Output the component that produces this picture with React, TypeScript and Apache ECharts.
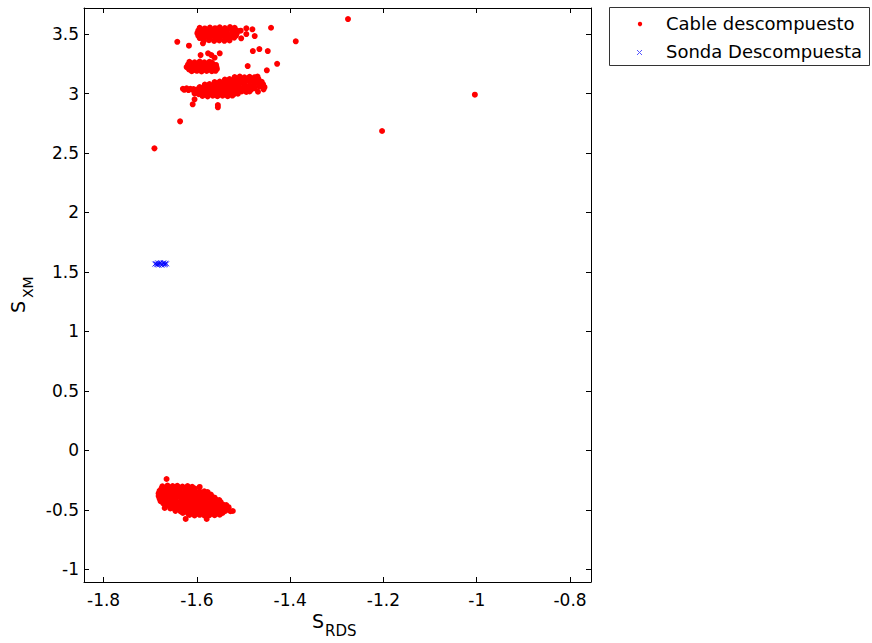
import { useEffect, useRef } from "react";
import * as echarts from "echarts";

// Series names (also used in the legend box)
const cableName = "Cable descompuesto";
const sondaName = "Sonda Descompuesta";

// Axis limits and tick positions
const xRange = [-1.842, -0.755];
const yRange = [-1.107, 3.719];
const xTicks = [-1.8, -1.6, -1.4, -1.2, -1, -0.8];
const yTicks = [-1, -0.5, 0, 0.5, 1, 1.5, 2, 2.5, 3, 3.5];

// Cable descompuesto: dense group near S_XM = -0.4
const cableLow: number[][] = [
  [-1.674, -0.302], [-1.663, -0.296], [-1.652, -0.301], [-1.642, -0.298], [-1.631, -0.304], [-1.620, -0.300], [-1.610, -0.306],
  [-1.676, -0.322], [-1.668, -0.318], [-1.657, -0.324], [-1.647, -0.320], [-1.636, -0.325], [-1.625, -0.319], [-1.615, -0.326], [-1.604, -0.322],
  [-1.680, -0.341], [-1.669, -0.345], [-1.659, -0.339], [-1.648, -0.344], [-1.637, -0.340], [-1.626, -0.346], [-1.616, -0.342], [-1.605, -0.338], [-1.594, -0.347], [-1.584, -0.344], [-1.577, -0.351],
  [-1.682, -0.362], [-1.675, -0.366], [-1.664, -0.361], [-1.653, -0.367], [-1.643, -0.363], [-1.632, -0.368], [-1.621, -0.362], [-1.611, -0.367], [-1.600, -0.364], [-1.589, -0.369], [-1.579, -0.365], [-1.570, -0.372],
  [-1.682, -0.384], [-1.671, -0.388], [-1.661, -0.382], [-1.650, -0.387], [-1.639, -0.383], [-1.629, -0.389], [-1.618, -0.385], [-1.607, -0.381], [-1.597, -0.390], [-1.586, -0.386], [-1.575, -0.391], [-1.566, -0.394], [-1.562, -0.398],
  [-1.680, -0.406], [-1.676, -0.403], [-1.666, -0.409], [-1.655, -0.404], [-1.645, -0.410], [-1.634, -0.405], [-1.623, -0.408], [-1.613, -0.403], [-1.602, -0.411], [-1.591, -0.406], [-1.581, -0.412], [-1.570, -0.409], [-1.559, -0.415], [-1.552, -0.418],
  [-1.678, -0.427], [-1.667, -0.423], [-1.656, -0.429], [-1.646, -0.424], [-1.635, -0.430], [-1.624, -0.425], [-1.614, -0.428], [-1.603, -0.433], [-1.592, -0.427], [-1.582, -0.431], [-1.571, -0.435], [-1.560, -0.430], [-1.549, -0.436],
  [-1.672, -0.446], [-1.662, -0.451], [-1.651, -0.445], [-1.640, -0.450], [-1.630, -0.447], [-1.619, -0.452], [-1.608, -0.448], [-1.598, -0.453], [-1.587, -0.446], [-1.576, -0.451], [-1.566, -0.455], [-1.555, -0.449], [-1.544, -0.456], [-1.537, -0.460],
  [-1.667, -0.467], [-1.656, -0.471], [-1.646, -0.465], [-1.635, -0.470], [-1.624, -0.466], [-1.614, -0.472], [-1.603, -0.468], [-1.592, -0.473], [-1.582, -0.467], [-1.571, -0.471], [-1.560, -0.475], [-1.549, -0.469], [-1.539, -0.474], [-1.532, -0.478],
  [-1.657, -0.488], [-1.648, -0.492], [-1.638, -0.487], [-1.627, -0.493], [-1.616, -0.489], [-1.606, -0.494], [-1.595, -0.490], [-1.584, -0.495], [-1.574, -0.488], [-1.563, -0.493], [-1.552, -0.491], [-1.542, -0.496], [-1.533, -0.492],
  [-1.646, -0.509], [-1.635, -0.513], [-1.624, -0.508], [-1.614, -0.514], [-1.603, -0.510], [-1.592, -0.515], [-1.582, -0.511], [-1.571, -0.516], [-1.560, -0.509], [-1.549, -0.514], [-1.539, -0.510], [-1.528, -0.512],
  [-1.630, -0.527], [-1.619, -0.531], [-1.609, -0.526], [-1.598, -0.532], [-1.587, -0.528], [-1.577, -0.533], [-1.566, -0.527], [-1.555, -0.531], [-1.545, -0.526],
  [-1.616, -0.543], [-1.605, -0.547], [-1.594, -0.542], [-1.584, -0.548], [-1.573, -0.544], [-1.562, -0.546], [-1.551, -0.541],
  [-1.665, -0.241], [-1.594, -0.308], [-1.624, -0.577], [-1.579, -0.577], [-1.669, -0.485], [-1.523, -0.510],
];

// Cable descompuesto: band near S_XM = 3.5
const cableBandA: number[][] = [
  [-1.594, 3.552], [-1.583, 3.547], [-1.572, 3.554], [-1.561, 3.549], [-1.551, 3.556], [-1.540, 3.551], [-1.529, 3.558], [-1.519, 3.553],
  [-1.597, 3.528], [-1.588, 3.532], [-1.577, 3.526], [-1.567, 3.531], [-1.556, 3.527], [-1.545, 3.533], [-1.535, 3.529], [-1.524, 3.534], [-1.514, 3.530],
  [-1.599, 3.507], [-1.588, 3.511], [-1.577, 3.505], [-1.567, 3.510], [-1.556, 3.504], [-1.545, 3.509], [-1.535, 3.506], [-1.524, 3.511], [-1.514, 3.508],
  [-1.597, 3.486], [-1.586, 3.490], [-1.575, 3.484], [-1.565, 3.489], [-1.554, 3.485], [-1.543, 3.490], [-1.533, 3.486], [-1.522, 3.491], [-1.516, 3.487],
  [-1.594, 3.466], [-1.583, 3.470], [-1.572, 3.464], [-1.561, 3.469], [-1.551, 3.463], [-1.540, 3.468], [-1.529, 3.465], [-1.520, 3.470],
  [-1.585, 3.444], [-1.574, 3.448], [-1.563, 3.442], [-1.552, 3.447], [-1.541, 3.443], [-1.530, 3.446],
  [-1.494, 3.548], [-1.481, 3.540], [-1.506, 3.528], [-1.494, 3.500], [-1.476, 3.483], [-1.505, 3.464],
  [-1.441, 3.553], [-1.388, 3.439], [-1.642, 3.435], [-1.617, 3.402], [-1.587, 3.422], [-1.276, 3.626],
];

// Cable descompuesto: band near S_XM = 3.23
const cableBandB: number[][] = [
  [-1.616, 3.266], [-1.605, 3.262], [-1.594, 3.268], [-1.584, 3.263], [-1.573, 3.267], [-1.568, 3.261],
  [-1.619, 3.243], [-1.609, 3.247], [-1.598, 3.241], [-1.587, 3.246], [-1.577, 3.242], [-1.566, 3.247], [-1.559, 3.240],
  [-1.622, 3.222], [-1.611, 3.226], [-1.601, 3.220], [-1.590, 3.225], [-1.579, 3.221], [-1.569, 3.226], [-1.558, 3.222],
  [-1.617, 3.203], [-1.606, 3.199], [-1.595, 3.204], [-1.585, 3.200], [-1.574, 3.205], [-1.563, 3.201], [-1.557, 3.206],
  [-1.611, 3.188], [-1.600, 3.191], [-1.590, 3.186], [-1.579, 3.190], [-1.568, 3.187], [-1.560, 3.191],
  [-1.592, 3.323], [-1.576, 3.338], [-1.569, 3.323], [-1.551, 3.338], [-1.562, 3.301],
  [-1.480, 3.357], [-1.466, 3.374], [-1.448, 3.357], [-1.428, 3.250], [-1.450, 3.195], [-1.491, 3.231],
];

// Cable descompuesto: band near S_XM = 3.05
const cableBandC: number[][] = [
  [-1.630, 3.040], [-1.622, 3.043], [-1.614, 3.039], [-1.607, 3.037], [-1.627, 3.031], [-1.618, 3.029], [-1.610, 3.032],
  [-1.519, 3.138], [-1.508, 3.142], [-1.498, 3.136], [-1.487, 3.141], [-1.476, 3.137], [-1.470, 3.143],
  [-1.540, 3.117], [-1.530, 3.121], [-1.519, 3.115], [-1.509, 3.120], [-1.498, 3.116], [-1.487, 3.121], [-1.477, 3.117], [-1.468, 3.122],
  [-1.562, 3.096], [-1.551, 3.100], [-1.541, 3.094], [-1.530, 3.099], [-1.519, 3.095], [-1.509, 3.100], [-1.498, 3.096], [-1.487, 3.101], [-1.477, 3.097], [-1.466, 3.094], [-1.461, 3.099],
  [-1.583, 3.075], [-1.573, 3.079], [-1.562, 3.073], [-1.551, 3.078], [-1.541, 3.074], [-1.530, 3.079], [-1.519, 3.075], [-1.509, 3.080], [-1.498, 3.076], [-1.487, 3.071], [-1.477, 3.077], [-1.466, 3.073], [-1.458, 3.078],
  [-1.594, 3.054], [-1.583, 3.058], [-1.573, 3.052], [-1.562, 3.057], [-1.551, 3.053], [-1.541, 3.058], [-1.530, 3.054], [-1.519, 3.059], [-1.509, 3.055], [-1.498, 3.051], [-1.487, 3.056], [-1.477, 3.052], [-1.466, 3.057], [-1.455, 3.053],
  [-1.600, 3.033], [-1.590, 3.037], [-1.579, 3.031], [-1.568, 3.036], [-1.558, 3.030], [-1.547, 3.035], [-1.536, 3.031], [-1.526, 3.036], [-1.515, 3.032], [-1.504, 3.037], [-1.494, 3.031], [-1.483, 3.035],
  [-1.600, 3.011], [-1.590, 3.015], [-1.579, 3.009], [-1.568, 3.014], [-1.558, 3.010], [-1.547, 3.015], [-1.536, 3.011], [-1.526, 3.016], [-1.515, 3.012], [-1.504, 3.017], [-1.494, 3.013], [-1.487, 3.018],
  [-1.596, 2.994], [-1.585, 2.990], [-1.574, 2.995], [-1.564, 2.991], [-1.553, 2.996], [-1.542, 2.992], [-1.532, 2.997], [-1.521, 2.993], [-1.512, 2.998],
  [-1.588, 2.979], [-1.577, 2.976], [-1.566, 2.981], [-1.556, 2.977], [-1.545, 2.982], [-1.534, 2.978], [-1.524, 2.983],
  [-1.605, 3.001], [-1.605, 2.951], [-1.609, 2.909], [-1.555, 2.903], [-1.555, 2.884],
  [-1.476, 3.044], [-1.457, 3.035], [-1.469, 3.015], [-1.473, 3.099], [-1.487, 3.128],
];

// Cable descompuesto: isolated readings
const cableStray: number[][] = [
  [-1.636, 2.766], [-1.691, 2.539], [-1.004, 2.990], [-1.203, 2.685],
];

// Sonda Descompuesta readings
const sondaPoints: number[][] = [
  [-1.688, 1.570], [-1.684, 1.565], [-1.680, 1.572], [-1.676, 1.566], [-1.672, 1.570], [-1.668, 1.564],
  [-1.665, 1.568], [-1.682, 1.558], [-1.675, 1.556], [-1.670, 1.559], [-1.686, 1.561], [-1.678, 1.578],
  [-1.671, 1.577], [-1.684, 1.576], [-1.667, 1.573], [-1.690, 1.566],
];

const FONT = "DejaVu Sans";
const RED = "#ff0000";
const BLUE = "#0000ff";
const CROSS = "path://M0 0L10 10M10 0L0 10";

export default function App() {
  const ref = useRef<HTMLDivElement | null>(null);

  useEffect(() => {
    if (!ref.current) return;
    const chart = echarts.init(ref.current, null, { renderer: "svg" });

    const axisLine = { show: true, onZero: false, lineStyle: { color: "#000", width: 1 } };
    const tickStyle = { color: "#000", width: 1 };

    const option: echarts.EChartsOption = {
      animation: false,
      backgroundColor: "#fff",
      grid: { left: 84, right: 281, top: 8, bottom: 61 },
      xAxis: [
        {
          type: "value",
          position: "bottom",
          min: xRange[0],
          max: xRange[1],
          axisLine,
          axisTick: { show: true, inside: true, length: 5, customValues: xTicks, lineStyle: tickStyle },
          axisLabel: { customValues: xTicks, color: "#000", fontFamily: FONT, fontSize: 17, margin: 9 },
          splitLine: { show: false },
        },
        {
          type: "value",
          position: "top",
          min: xRange[0],
          max: xRange[1],
          axisLine,
          axisTick: { show: true, inside: true, length: 5, customValues: xTicks, lineStyle: tickStyle },
          axisLabel: { show: false },
          splitLine: { show: false },
        },
      ],
      yAxis: [
        {
          type: "value",
          position: "left",
          min: yRange[0],
          max: yRange[1],
          axisLine,
          axisTick: { show: true, inside: true, length: 5, customValues: yTicks, lineStyle: tickStyle },
          axisLabel: { customValues: yTicks, color: "#000", fontFamily: FONT, fontSize: 17, margin: 5 },
          splitLine: { show: false },
        },
        {
          type: "value",
          position: "right",
          min: yRange[0],
          max: yRange[1],
          axisLine,
          axisTick: { show: true, inside: true, length: 5, customValues: yTicks, lineStyle: tickStyle },
          axisLabel: { show: false },
          splitLine: { show: false },
        },
      ],
      series: [
        {
          name: cableName,
          type: "scatter",
          xAxisIndex: 0,
          yAxisIndex: 0,
          symbol: "circle",
          symbolSize: 6,
          itemStyle: { color: RED, opacity: 1 },
          data: [...cableLow, ...cableBandA, ...cableBandB, ...cableBandC, ...cableStray],
        },
        {
          name: sondaName,
          type: "scatter",
          xAxisIndex: 0,
          yAxisIndex: 0,
          symbol: CROSS,
          symbolSize: 5,
          itemStyle: { color: "none", borderColor: BLUE, borderWidth: 1 },
          data: sondaPoints,
        },
      ],
      graphic: [
        // legend box
        {
          type: "rect",
          shape: { x: 609.5, y: 7.5, width: 260, height: 58 },
          style: { fill: "#fff", stroke: "#333", lineWidth: 1 },
        },
        { type: "circle", shape: { cx: 640, cy: 24, r: 2.2 }, style: { fill: RED } },
        { type: "line", shape: { x1: 637, y1: 50, x2: 642, y2: 55 }, style: { stroke: "#5555ff", lineWidth: 1 } },
        { type: "line", shape: { x1: 642, y1: 50, x2: 637, y2: 55 }, style: { stroke: "#5555ff", lineWidth: 1 } },
        {
          type: "text",
          x: 666,
          y: 23.5,
          style: { text: cableName, fontFamily: FONT, fontSize: 18, fill: "#000", align: "left", verticalAlign: "middle" },
        },
        {
          type: "text",
          x: 666,
          y: 51.5,
          style: { text: sondaName, fontFamily: FONT, fontSize: 18, fill: "#000", align: "left", verticalAlign: "middle" },
        },
        // x axis title: S with subscript RDS
        {
          type: "text",
          x: 312,
          y: 621,
          style: { text: "S", fontFamily: FONT, fontSize: 19, fill: "#000", align: "left", verticalAlign: "middle" },
        },
        {
          type: "text",
          x: 325,
          y: 631,
          style: { text: "RDS", fontFamily: FONT, fontSize: 15, fill: "#000", align: "left", verticalAlign: "middle" },
        },
        // y axis title: S with subscript XM, rotated
        {
          type: "text",
          x: 17.5,
          y: 313,
          rotation: Math.PI / 2,
          style: { text: "S", fontFamily: FONT, fontSize: 19, fill: "#000", align: "left", verticalAlign: "middle" },
        },
        {
          type: "text",
          x: 28,
          y: 298,
          rotation: Math.PI / 2,
          style: { text: "XM", fontFamily: FONT, fontSize: 14, fill: "#000", align: "left", verticalAlign: "middle" },
        },
      ],
    };

    chart.setOption(option);
    return () => chart.dispose();
  }, []);

  return (
    <div
      ref={ref}
      style={{ position: "fixed", left: 0, top: 0, width: 872, height: 643, background: "#fff" }}
    />
  );
}
